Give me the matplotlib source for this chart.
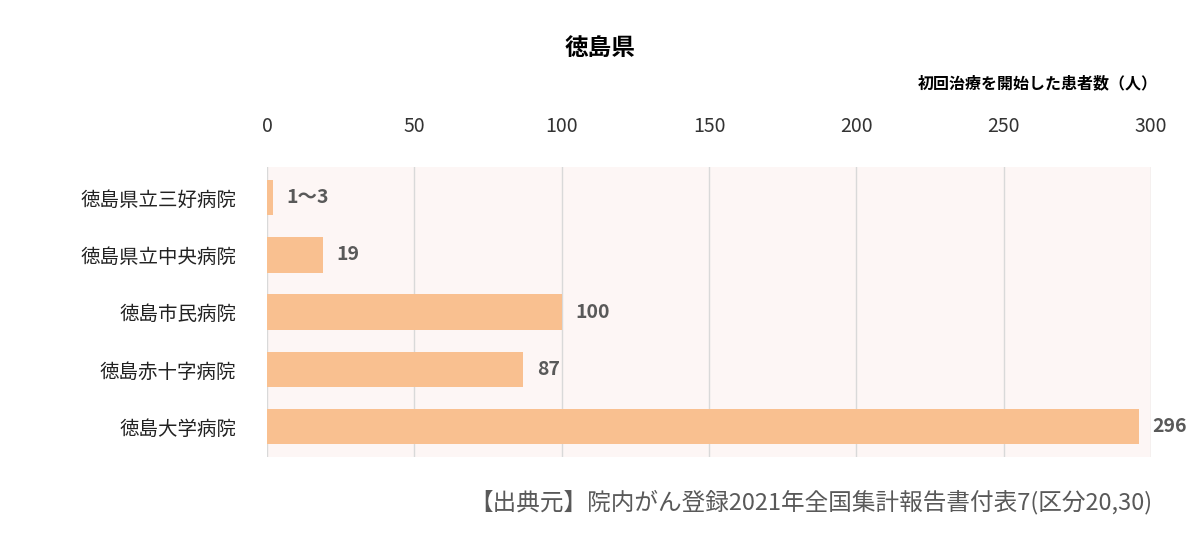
import matplotlib.pyplot as plt
import numpy as np

plt.rcParams['font.family'] = 'Noto Sans CJK JP'

hospitals = ['徳島県立三好病院', '徳島県立中央病院', '徳島市民病院', '徳島赤十字病院', '徳島大学病院']
values = [2, 19, 100, 87, 296]
value_labels = ['1〜3', '19', '100', '87', '296']
ticks = [0, 50, 100, 150, 200, 250, 300]

fig = plt.figure(figsize=(12, 5.52), dpi=100)
ax = fig.add_axes([0.2225, 0.172, 0.7367, 0.525])
ax.set_facecolor('#FDF6F5')

y = np.arange(len(hospitals))
ax.barh(y, values, height=0.62, color='#F9C090', zorder=2)
for yi, v, lab in zip(y, values, value_labels):
    ax.text(v + 4.5, yi, lab, va='center', ha='left', fontsize=14,
            fontweight='bold', color='#595959')

ax.set_yticks(y)
ax.set_yticklabels(hospitals, fontsize=14)
ax.set_ylim(len(hospitals) - 0.5 + 0.03, -0.5 - 0.03)
ax.set_xlim(0, 300)
ax.set_xticks(ticks)
ax.xaxis.tick_top()
ax.tick_params(axis='x', labelsize=14, length=0, pad=22, colors='#333333')
ax.tick_params(axis='y', length=0, pad=22, colors='#222222')
ax.grid(axis='x', color='#D9D9D9', linewidth=1, zorder=1)
for s in ax.spines.values():
    s.set_visible(False)

fig.text(0.5, 0.9, '徳島県', ha='center', fontsize=17, fontweight='bold')
fig.text(0.965, 0.84, '初回治療を開始した患者数（人）', ha='right', fontsize=11.5, fontweight='bold')
fig.text(0.96, 0.078, '【出典元】院内がん登録2021年全国集計報告書付表7(区分20,30)',
         ha='right', fontsize=17, color='#595959')

fig.savefig('out.png', dpi=100)
